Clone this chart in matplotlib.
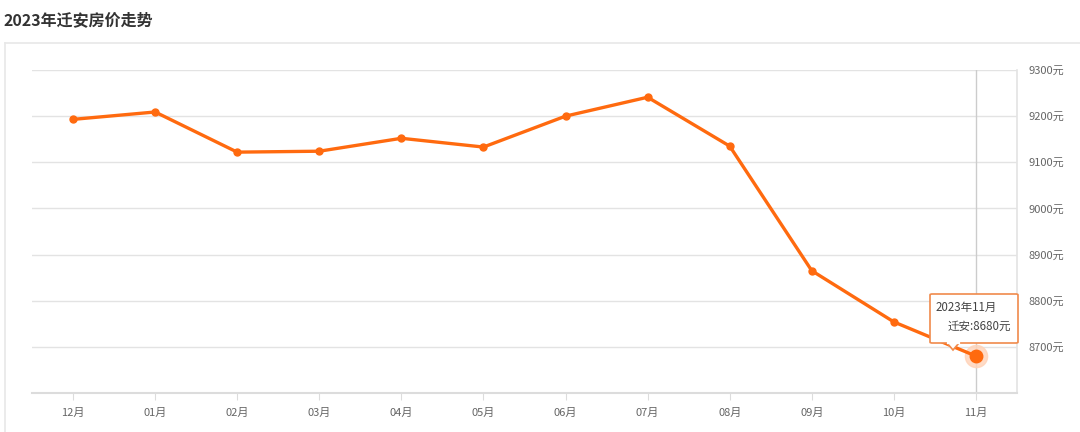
import matplotlib
matplotlib.use("Agg")
import matplotlib.pyplot as plt
from matplotlib.patches import FancyBboxPatch, Polygon
from matplotlib.lines import Line2D

plt.rcParams['font.family'] = ['Noto Sans CJK SC', 'DejaVu Sans']

months = ["12月", "01月", "02月", "03月", "04月", "05月", "06月", "07月", "08月", "09月", "10月", "11月"]
prices = [9193, 9209, 9122, 9124, 9152, 9133, 9200, 9241, 9135, 8865, 8754, 8680]
y_ticks = [8700, 8800, 8900, 9000, 9100, 9200, 9300]
y_labels = [f"{v}元" for v in y_ticks]
title = "2023年迁安房价走势"
tip_title = "2023年11月"
tip_text = "迁安:8680元"

W, H = 1080, 432
fig = plt.figure(figsize=(W / 100, H / 100), dpi=100)

def fx(px):
    return px / W

def fy(py):
    return 1 - py / H

# title and outer frame
fig.text(fx(4), fy(20), title, fontsize=11.5, fontweight='bold', color='#333333', va='center', ha='left')
fig.add_artist(Line2D([fx(5), fx(1080)], [fy(43), fy(43)], color='#e8e8e8', lw=1.2))
fig.add_artist(Line2D([fx(5), fx(5)], [fy(43), fy(432)], color='#e8e8e8', lw=1.2))

ax = fig.add_axes([fx(32), fy(393), fx(1017) - fx(32), fy(70) - fy(393)])
x = list(range(len(months)))
ax.set_xlim(-0.5, len(months) - 0.5)
ax.set_ylim(8600, 9300)

for s in ['top', 'left']:
    ax.spines[s].set_visible(False)
ax.spines['bottom'].set_color('#dcdcdc')
ax.spines['bottom'].set_linewidth(1.5)
ax.spines['right'].set_color('#e3e3e3')
ax.spines['right'].set_linewidth(1.2)

ax.set_yticks(y_ticks)
ax.set_yticklabels(y_labels)
ax.yaxis.tick_right()
ax.tick_params(axis='y', length=0, pad=8, labelsize=8, labelcolor='#666666')
ax.set_xticks(x)
ax.set_xticklabels(months)
ax.tick_params(axis='x', length=5, color='#dcdcdc', pad=6, labelsize=8, labelcolor='#666666')
ax.grid(axis='y', color='#e3e3e3', lw=1)
ax.set_axisbelow(True)

# crosshair at last point
ax.axvline(x[-1], color='#cccccc', lw=1, zorder=1)

ax.plot(x, prices, color='#ff6a0f', lw=2.4, marker='o', ms=5, zorder=3, clip_on=False)
ax.plot(x[-1], prices[-1], 'o', ms=16, color='#ffd3b8', alpha=0.8, zorder=2, clip_on=False)
ax.plot(x[-1], prices[-1], 'o', ms=9, color='#ff6a0f', zorder=4, clip_on=False)

# tooltip
bx0, by0, bx1, by1 = 930, 294, 1018, 343
box = FancyBboxPatch((fx(bx0), fy(by1)), fx(bx1) - fx(bx0), fy(by0) - fy(by1),
                     boxstyle='round,pad=0,rounding_size=0.002', transform=fig.transFigure,
                     facecolor='white', edgecolor='#f08a4b', lw=1.2, zorder=10)
fig.add_artist(box)
tri = Polygon([[fx(947), fy(343)], [fx(959), fy(343)], [fx(953), fy(350)]], closed=True,
              transform=fig.transFigure, facecolor='white', edgecolor='#f08a4b', lw=1.2, zorder=10)
fig.add_artist(tri)
fig.add_artist(Line2D([fx(947.5), fx(958.5)], [fy(343), fy(343)], color='white', lw=1.6, zorder=11))
fig.text(fx(936), fy(307), tip_title, fontsize=8.3, color='#444444', va='center', ha='left', zorder=12)
fig.text(fx(1011), fy(326), tip_text, fontsize=8.3, color='#444444', va='center', ha='right', zorder=12)

fig.savefig('out.png', dpi=100)
